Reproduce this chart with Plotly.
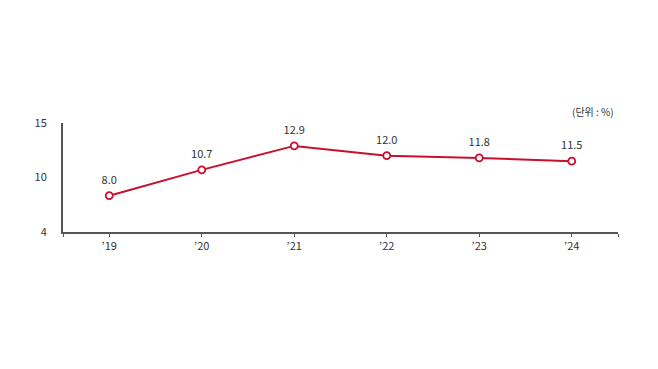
import plotly.graph_objects as go

years = ["’19", "’20", "’21", "’22", "’23", "’24"]
values = [8.0, 10.7, 12.9, 12.0, 11.8, 11.5]
ytick_values = [4, 10, 15]
unit_label = "(단위 : %)"

# broken (piecewise) value scale: 4-10 and 10-15 occupy equal heights
def scale(v):
    if v <= 10:
        return (v - 4) / 6.0
    return 1 + (v - 10) / 5.0

x_pos = list(range(len(years)))
y_plot = [scale(v) for v in values]
font_family = "Noto Sans CJK KR, Noto Sans, sans-serif"

fig = go.Figure()
fig.add_trace(go.Scatter(
    x=x_pos, y=y_plot,
    mode="lines+markers",
    line=dict(color="#c8102e", width=2),
    marker=dict(symbol="circle", size=7, color="white",
                line=dict(color="#c8102e", width=1.8)),
    cliponaxis=False,
    hoverinfo="skip",
))
# value labels (invisible larger markers give a bit more room above points)
fig.add_trace(go.Scatter(
    x=x_pos, y=y_plot,
    mode="markers+text",
    marker=dict(size=13, opacity=0),
    text=[f"{v:.1f}" for v in values],
    textposition="top center",
    textfont=dict(size=11, color="#333333", family=font_family),
    cliponaxis=False,
    hoverinfo="skip",
))

fig.update_layout(
    width=658, height=369,
    margin=dict(l=63, r=40, t=123, b=137),
    paper_bgcolor="white", plot_bgcolor="white",
    showlegend=False,
    font=dict(family=font_family, color="#333333", size=11),
    xaxis=dict(
        range=[-0.5, 5.5],
        tickmode="array",
        tickvals=[-0.5] + x_pos + [5.5],
        ticktext=[""] + years + [""],
        showgrid=False, zeroline=False,
        showline=True, linecolor="#555555", linewidth=2,
        ticks="outside", ticklen=3, tickwidth=1, tickcolor="#555555",
        tickfont=dict(size=11, color="#333333"),
        fixedrange=True,
    ),
    yaxis=dict(
        range=[0, 2],
        tickmode="array",
        tickvals=[scale(v) for v in ytick_values],
        ticktext=[str(v) for v in ytick_values],
        showgrid=False, zeroline=False,
        showline=True, linecolor="#555555", linewidth=2,
        ticks="", ticklabelstandoff=12,
        tickfont=dict(size=11, color="#333333"),
        fixedrange=True,
    ),
    annotations=[dict(
        x=1, y=1, xref="paper", yref="paper",
        xanchor="right", yanchor="bottom", yshift=2, xshift=-2,
        text=unit_label, showarrow=False,
        font=dict(size=10, color="#333333", family=font_family),
    )],
)

fig.write_html("out.html")
